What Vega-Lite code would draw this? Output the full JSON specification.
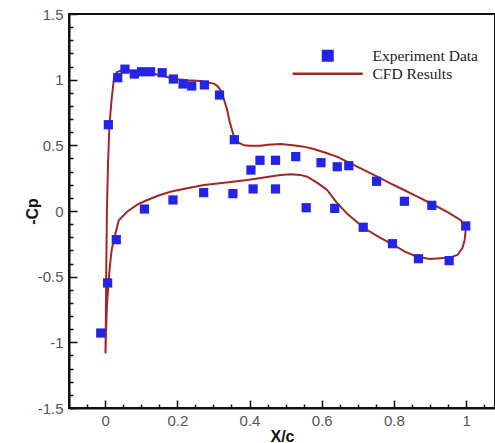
{
  "$schema": "https://vega.github.io/schema/vega-lite/v6.json",
  "width": 426,
  "height": 394,
  "autosize": {"type": "none"},
  "padding": {"left": 69, "top": 14, "right": 0, "bottom": 35},
  "background": "white",
  "config": {
    "view": {"stroke": "#111", "strokeWidth": 2},
    "axis": {
      "domainColor": "#111", "domainWidth": 2, "tickColor": "#111", "tickWidth": 1.5,
      "labelFont": "Liberation Sans", "labelFontSize": 15, "labelColor": "#555",
      "titleFont": "Liberation Sans", "titleFontSize": 16, "titleFontWeight": "bold", "titleColor": "#111",
      "grid": false
    }
  },
  "datasets": {
    "exp": [
      {"x": 0.009, "y": 0.657}, {"x": 0.035, "y": 1.015}, {"x": 0.055, "y": 1.08}, {"x": 0.081, "y": 1.043},
      {"x": 0.101, "y": 1.06}, {"x": 0.126, "y": 1.06}, {"x": 0.158, "y": 1.053}, {"x": 0.189, "y": 1.005},
      {"x": 0.216, "y": 0.967}, {"x": 0.24, "y": 0.952}, {"x": 0.275, "y": 0.96}, {"x": 0.317, "y": 0.883},
      {"x": 0.358, "y": 0.543}, {"x": 0.404, "y": 0.312}, {"x": 0.429, "y": 0.386}, {"x": 0.472, "y": 0.386},
      {"x": 0.528, "y": 0.414}, {"x": 0.598, "y": 0.368}, {"x": 0.643, "y": 0.337}, {"x": 0.675, "y": 0.345},
      {"x": 0.752, "y": 0.226}, {"x": 0.829, "y": 0.074}, {"x": 0.905, "y": 0.043},
      {"x": 0.109, "y": 0.015}, {"x": 0.188, "y": 0.084}, {"x": 0.273, "y": 0.14}, {"x": 0.354, "y": 0.132},
      {"x": 0.41, "y": 0.168}, {"x": 0.472, "y": 0.168}, {"x": 0.557, "y": 0.025}, {"x": 0.636, "y": 0.02},
      {"x": 0.715, "y": -0.124}, {"x": 0.796, "y": -0.249}, {"x": 0.868, "y": -0.363}, {"x": 0.953, "y": -0.378},
      {"x": 0.999, "y": -0.114},
      {"x": 0.031, "y": -0.218}, {"x": 0.007, "y": -0.548}, {"x": -0.012, "y": -0.929}
    ],
    "cfd": [
      {"i": 1, "x": 1.0, "y": -0.114}, {"i": 2, "x": 0.985, "y": -0.07}, {"i": 3, "x": 0.95, "y": -0.01},
      {"i": 4, "x": 0.902, "y": 0.059}, {"i": 5, "x": 0.865, "y": 0.11}, {"i": 6, "x": 0.828, "y": 0.16},
      {"i": 7, "x": 0.79, "y": 0.21}, {"i": 8, "x": 0.754, "y": 0.261}, {"i": 9, "x": 0.715, "y": 0.315},
      {"i": 10, "x": 0.68, "y": 0.363}, {"i": 11, "x": 0.645, "y": 0.41}, {"i": 12, "x": 0.615, "y": 0.44},
      {"i": 13, "x": 0.58, "y": 0.47}, {"i": 14, "x": 0.551, "y": 0.49}, {"i": 15, "x": 0.52, "y": 0.5},
      {"i": 16, "x": 0.486, "y": 0.51}, {"i": 17, "x": 0.45, "y": 0.505}, {"i": 18, "x": 0.431, "y": 0.497},
      {"i": 19, "x": 0.4, "y": 0.497}, {"i": 20, "x": 0.385, "y": 0.5}, {"i": 21, "x": 0.37, "y": 0.52},
      {"i": 22, "x": 0.357, "y": 0.566}, {"i": 23, "x": 0.345, "y": 0.68}, {"i": 24, "x": 0.338, "y": 0.77},
      {"i": 25, "x": 0.328, "y": 0.86}, {"i": 26, "x": 0.32, "y": 0.92}, {"i": 27, "x": 0.31, "y": 0.955},
      {"i": 28, "x": 0.301, "y": 0.97}, {"i": 29, "x": 0.28, "y": 0.98}, {"i": 30, "x": 0.265, "y": 0.99},
      {"i": 31, "x": 0.23, "y": 0.995}, {"i": 32, "x": 0.191, "y": 1.005}, {"i": 33, "x": 0.16, "y": 1.03},
      {"i": 34, "x": 0.126, "y": 1.049}, {"i": 35, "x": 0.09, "y": 1.06}, {"i": 36, "x": 0.061, "y": 1.074},
      {"i": 37, "x": 0.045, "y": 1.07}, {"i": 38, "x": 0.034, "y": 1.06}, {"i": 39, "x": 0.028, "y": 1.03},
      {"i": 40, "x": 0.024, "y": 0.998}, {"i": 41, "x": 0.018, "y": 0.85}, {"i": 42, "x": 0.012, "y": 0.655},
      {"i": 43, "x": 0.008, "y": 0.35}, {"i": 44, "x": 0.005, "y": 0.0}, {"i": 45, "x": 0.003, "y": -0.5},
      {"i": 46, "x": 0.002, "y": -0.85}, {"i": 47, "x": 0.001, "y": -1.084},
      {"i": 48, "x": 0.004, "y": -0.8}, {"i": 49, "x": 0.006, "y": -0.678}, {"i": 50, "x": 0.013, "y": -0.424},
      {"i": 51, "x": 0.018, "y": -0.3}, {"i": 52, "x": 0.024, "y": -0.22}, {"i": 53, "x": 0.038, "y": -0.07},
      {"i": 54, "x": 0.061, "y": -0.005}, {"i": 55, "x": 0.09, "y": 0.05}, {"i": 56, "x": 0.117, "y": 0.084},
      {"i": 57, "x": 0.15, "y": 0.12}, {"i": 58, "x": 0.181, "y": 0.147}, {"i": 59, "x": 0.22, "y": 0.17},
      {"i": 60, "x": 0.274, "y": 0.198}, {"i": 61, "x": 0.33, "y": 0.215}, {"i": 62, "x": 0.394, "y": 0.236},
      {"i": 63, "x": 0.44, "y": 0.255}, {"i": 64, "x": 0.486, "y": 0.274}, {"i": 65, "x": 0.514, "y": 0.28},
      {"i": 66, "x": 0.54, "y": 0.275}, {"i": 67, "x": 0.56, "y": 0.261}, {"i": 68, "x": 0.59, "y": 0.21},
      {"i": 69, "x": 0.615, "y": 0.16}, {"i": 70, "x": 0.64, "y": 0.07}, {"i": 71, "x": 0.67, "y": -0.02},
      {"i": 72, "x": 0.7, "y": -0.09}, {"i": 73, "x": 0.726, "y": -0.145}, {"i": 74, "x": 0.76, "y": -0.2},
      {"i": 75, "x": 0.8, "y": -0.259}, {"i": 76, "x": 0.83, "y": -0.31}, {"i": 77, "x": 0.865, "y": -0.348},
      {"i": 78, "x": 0.9, "y": -0.365}, {"i": 79, "x": 0.929, "y": -0.36}, {"i": 80, "x": 0.955, "y": -0.355},
      {"i": 81, "x": 0.976, "y": -0.335}, {"i": 82, "x": 0.99, "y": -0.28}, {"i": 83, "x": 0.996, "y": -0.22},
      {"i": 84, "x": 1.0, "y": -0.114}
    ]
  },
  "encoding": {
    "x": {
      "field": "x", "type": "quantitative",
      "scale": {"domain": [-0.1, 1.08], "nice": false, "zero": false},
      "axis": {
        "title": "X/c", "titlePadding": 0, "format": "~g",
        "values": [-0.1, -0.05, 0, 0.05, 0.1, 0.15, 0.2, 0.25, 0.3, 0.35, 0.4, 0.45, 0.5, 0.55, 0.6, 0.65, 0.7, 0.75, 0.8, 0.85, 0.9, 0.95, 1, 1.05],
        "tickSize": {"condition": {"test": "abs(datum.value*5 - round(datum.value*5)) < 0.001", "value": -8}, "value": -4},
        "labelExpr": "abs(datum.value*5 - round(datum.value*5)) < 0.001 ? replace(datum.label, '\u2212', '-') : ''",
        "labelPadding": 13
      }
    },
    "y": {
      "field": "y", "type": "quantitative",
      "scale": {"domain": [-1.5, 1.5], "nice": false, "zero": false},
      "axis": {
        "title": "-Cp", "titleX": -37, "titleY": 197, "titleAngle": 270, "titleAlign": "center", "titleBaseline": "middle", "format": "~g",
        "values": [-1.5, -1.4, -1.3, -1.2, -1.1, -1, -0.9, -0.8, -0.7, -0.6, -0.5, -0.4, -0.3, -0.2, -0.1, 0, 0.1, 0.2, 0.3, 0.4, 0.5, 0.6, 0.7, 0.8, 0.9, 1, 1.1, 1.2, 1.3, 1.4, 1.5],
        "tickSize": {"condition": {"test": "abs(datum.value*2 - round(datum.value*2)) < 0.001", "value": -8}, "value": -4},
        "labelExpr": "abs(datum.value*2 - round(datum.value*2)) < 0.001 ? replace(datum.label, '\u2212', '-') : ''",
        "labelPadding": 14
      }
    },
    "color": {
      "field": "s", "type": "nominal",
      "scale": {"domain": ["Experiment Data", "CFD Results"], "range": ["#2424e8", "#a32626"]},
      "legend": {
        "orient": "none", "legendX": 251, "legendY": 34, "title": null,
        "symbolSize": 4900, "symbolType": "stroke", "labelFont": "Liberation Serif", "labelFontSize": 15.5,
        "labelColor": "#222", "rowPadding": -1, "labelOffset": 37,
        "encode": {
          "symbols": {
            "update": {
              "shape": {"signal": "datum.value === 'CFD Results' ? 'stroke' : 'square'"},
              "size": {"signal": "datum.value === 'CFD Results' ? 4900 : 90"},
              "fill": {"signal": "datum.value === 'CFD Results' ? 'transparent' : '#2424e8'"},
              "stroke": {"signal": "datum.value === 'CFD Results' ? '#a32626' : 'transparent'"},
              "strokeWidth": {"value": 2.5},
              "opacity": {"value": 1}
            }
          }
        }
      }
    }
  },
  "layer": [
    {
      "data": {"name": "cfd"},
      "transform": [{"calculate": "'CFD Results'", "as": "s"}],
      "mark": {"type": "line", "strokeWidth": 2, "clip": true},
      "encoding": {"order": {"field": "i", "type": "quantitative"}}
    },
    {
      "data": {"name": "exp"},
      "transform": [{"calculate": "'Experiment Data'", "as": "s"}],
      "mark": {"type": "square", "size": 85, "opacity": 1, "filled": true}
    }
  ]
}
